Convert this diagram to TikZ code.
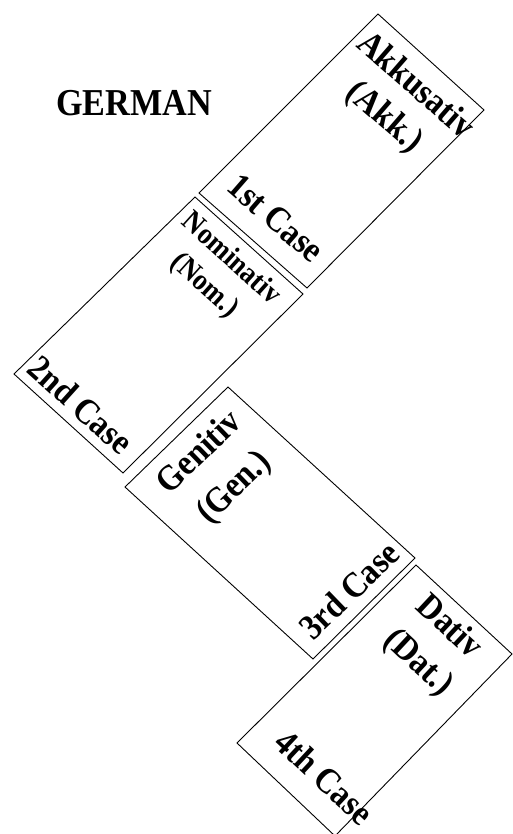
\documentclass[tikz,border=0pt]{standalone}
\usepackage{fontspec}
\setmainfont{Liberation Serif}
\begin{document}
\begin{tikzpicture}[x=1pt,y=-1pt,
  casebox/.style={draw=black,line width=0.9pt,line join=miter},
  % labels are set in a slightly narrowed bold serif
  lbl/.style={font=\fontsize{36}{40}\selectfont\bfseries,inner sep=0pt},
  lblsmall/.style={font=\fontsize{30}{34}\selectfont\bfseries,inner sep=0pt},
  narrow/.style={xscale=0.9},
  title/.style={font=\fontsize{38}{42}\selectfont\bfseries,inner sep=0pt}]
\useasboundingbox (0,0) rectangle (513,834);
\clip (0,0) rectangle (513,834);

% title
\node[title,anchor=base east,narrow] (title) at (212,116) {GERMAN};

% corners of the four case cards
\coordinate (a1) at (378,14);  \coordinate (a2) at (484,110);
\coordinate (a3) at (307,288); \coordinate (a4) at (199,193);
\coordinate (n1) at (195,197); \coordinate (n2) at (303,294);
\coordinate (n3) at (123,473); \coordinate (n4) at (14,374);
\coordinate (g1) at (228,387); \coordinate (g2) at (415,558);
\coordinate (g3) at (313,659); \coordinate (g4) at (125,487);
\coordinate (d1) at (416,565); \coordinate (d2) at (512,654);
\coordinate (d3) at (335,836); \coordinate (d4) at (237,743);

\draw[casebox] (a1) -- (a2) -- (a3) -- (a4) -- cycle;
\draw[casebox] (n1) -- (n2) -- (n3) -- (n4) -- cycle;
\draw[casebox] (g1) -- (g2) -- (g3) -- (g4) -- cycle;
\draw[casebox] (d1) -- (d2) -- (d3) -- (d4) -- cycle;

% 1st case: Akkusativ
\node[lbl,rotate=-41,narrow] (akk) at (417,84) {Akkusativ};
\node[lbl,rotate=-41,narrow] (akkab) at (384,118) {(Akk.)};
\node[lbl,rotate=-41,narrow] (akkno) at (276,218) {1st Case};

% 2nd case: Nominativ
\node[lblsmall,rotate=-42,narrow] (nom) at (233,257) {Nominativ};
\node[lblsmall,rotate=-42,narrow] (nomab) at (204,286) {(Nom.)};
\node[lbl,rotate=-42,narrow] (nomno) at (81,405) {2nd Case};

% 3rd case: Genitiv
\node[lbl,rotate=44,narrow] (gen) at (198,451) {Genitiv};
\node[lbl,rotate=44,narrow] (genab) at (235,488) {(Gen.)};
\node[lbl,rotate=44,narrow] (genno) at (349,590) {3rd Case};

% 4th case: Dativ
\node[lbl,rotate=-43,narrow] (dat) at (451,625) {Dativ};
\node[lbl,rotate=-43,narrow] (datab) at (418,663) {(Dat.)};
\node[lbl,rotate=-43,narrow] (datno) at (325,777) {4th Case};
\end{tikzpicture}
\end{document}
